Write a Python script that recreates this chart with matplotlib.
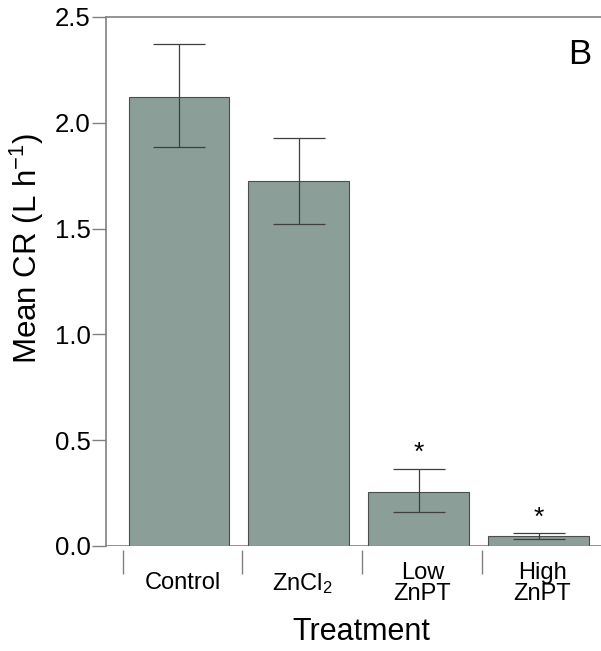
import numpy as np
import matplotlib
matplotlib.use('Agg')
import matplotlib.pyplot as plt

plt.rcParams['font.family'] = ['Liberation Sans', 'DejaVu Sans']
plt.rcParams['mathtext.default'] = 'regular'

# data
treatments = ['Control', 'ZnCl$_2$', 'Low\nZnPT', 'High\nZnPT']
mean_cr = [2.12, 1.725, 0.255, 0.047]
err_low = [0.235, 0.205, 0.095, 0.014]
err_high = [0.25, 0.205, 0.11, 0.014]
signif = ['', '', '*', '*']
star_y = [0, 0, 0.44, 0.135]

bar_color = '#8b9e98'
line_grey = '#808080'

fig = plt.figure(figsize=(6.01, 6.51), dpi=100)
ax = fig.add_axes([0.176, 0.1613, 0.826, 0.8126])

x = np.arange(len(treatments))
ax.bar(x - 0.03, mean_cr, width=0.84, color=bar_color, edgecolor='#4d4d4d', linewidth=0.8, zorder=2)
ax.errorbar(x - 0.03, mean_cr, yerr=[err_low, err_high], fmt='none', ecolor='#3f3f3f',
            elinewidth=0.9, capsize=18.5, capthick=0.9, zorder=3)
for xi, s, sy in zip(x, signif, star_y):
    if s:
        ax.text(xi - 0.03, sy, s, ha='center', va='center', fontsize=19)

ax.axhline(0, color=line_grey, linewidth=1.2, zorder=1)
ax.set_xlim(-0.64, 3.46)
ax.set_ylim(0, 2.5)
ax.set_yticks([0, 0.5, 1.0, 1.5, 2.0, 2.5])
ax.set_yticklabels(['0.0', '0.5', '1.0', '1.5', '2.0', '2.5'])

ax.spines['right'].set_visible(False)
ax.spines['bottom'].set_visible(False)
ax.spines['bottom'].set_position(('outward', 3))
for side in ['left', 'top']:
    ax.spines[side].set_color(line_grey)
    ax.spines[side].set_linewidth(1.2)

ax.set_xticks(x)
ax.set_xticklabels(treatments, fontsize=17, linespacing=0.95)
for lbl in ax.get_xticklabels():
    lbl.set_verticalalignment('center')
ax.set_xticks(np.arange(-0.5, 4.0, 1.0), minor=True)
ax.tick_params(axis='x', which='major', length=0, pad=24)
ax.tick_params(axis='x', which='minor', length=17, width=1.0, color=line_grey, direction='out')
ax.tick_params(axis='y', length=10, width=1.0, color=line_grey, labelsize=18.5, pad=1)

ax.set_xlabel('Treatment', fontsize=22, va='center')
ax.xaxis.set_label_coords(0.514, -0.163)
ax.set_ylabel('Mean CR (L h$^{-1}$)', fontsize=22.5, va='center')
ax.yaxis.set_label_coords(-0.159, 0.563)
ax.text(0.955, 0.93, 'B', transform=ax.transAxes, ha='center', va='center', fontsize=25)

fig.savefig('out.png', dpi=100)
